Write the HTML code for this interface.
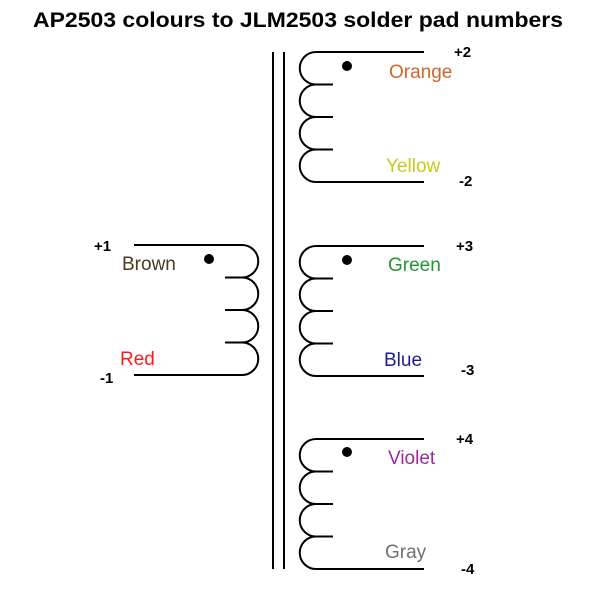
<!DOCTYPE html>
<html><head><meta charset="utf-8"><style>
html,body{margin:0;padding:0;background:#fff;}
svg{display:block;}
</style></head><body>
<svg width="607" height="611" viewBox="0 0 607 611" xmlns="http://www.w3.org/2000/svg">
<text x="298" y="27" text-anchor="middle" font-family="Liberation Sans, sans-serif" font-weight="bold" font-size="21" textLength="530" lengthAdjust="spacingAndGlyphs">AP2503 colours to JLM2503 solder pad numbers</text>
<g stroke="#000" stroke-width="2" fill="none">
<line x1="273" y1="52" x2="273" y2="569"/>
<line x1="284" y1="52" x2="284" y2="569"/>
<path d="M134,245 H242 A16.25,16.25 0 0 1 242,277.5 A16.25,16.25 0 0 1 242,310 A16.25,16.25 0 0 1 242,342.5 A16.25,16.25 0 0 1 242,375 H134"/>
<path d="M225,277.5 H242 M225,310 H242 M225,342.5 H242"/>
<path d="M424,52 H316 A16.25,16.25 0 0 0 316,84.5 A16.25,16.25 0 0 0 316,117 A16.25,16.25 0 0 0 316,149.5 A16.25,16.25 0 0 0 316,182 H424"/>
<path d="M316,84.5 H333 M316,117 H333 M316,149.5 H333"/>
<path d="M424,246 H316 A16.25,16.25 0 0 0 316,278.5 A16.25,16.25 0 0 0 316,311 A16.25,16.25 0 0 0 316,343.5 A16.25,16.25 0 0 0 316,376 H424"/>
<path d="M316,278.5 H333 M316,311 H333 M316,343.5 H333"/>
<path d="M424,439 H316 A16.25,16.25 0 0 0 316,471.5 A16.25,16.25 0 0 0 316,504 A16.25,16.25 0 0 0 316,536.5 A16.25,16.25 0 0 0 316,569 H424"/>
<path d="M316,471.5 H333 M316,504 H333 M316,536.5 H333"/>
</g>
<g fill="#000">
<circle cx="347" cy="66" r="5"/>
<circle cx="209" cy="259" r="5"/>
<circle cx="347" cy="260" r="5"/>
<circle cx="347" cy="452" r="5"/>
</g>
<g font-family="Liberation Sans, sans-serif" font-size="19">
<text x="389" y="78" fill="#d2642c">Orange</text>
<text x="386" y="172" fill="#c8c81e">Yellow</text>
<text x="388" y="271" fill="#1e9632">Green</text>
<text x="384" y="366" fill="#1e1e8c">Blue</text>
<text x="388" y="464" fill="#9a2a9a">Violet</text>
<text x="385" y="558" fill="#707070">Gray</text>
<text x="122" y="270" fill="#4a3a1e">Brown</text>
<text x="120" y="365" fill="#ff1a1a">Red</text>
</g>
<g font-family="Liberation Sans, sans-serif" font-size="15" font-weight="bold">
<text x="454" y="57">+2</text>
<text x="459" y="186">-2</text>
<text x="456" y="251">+3</text>
<text x="461" y="375">-3</text>
<text x="456" y="444">+4</text>
<text x="461" y="574">-4</text>
<text x="94" y="251">+1</text>
<text x="100" y="383">-1</text>
</g>
</svg>
</body></html>
